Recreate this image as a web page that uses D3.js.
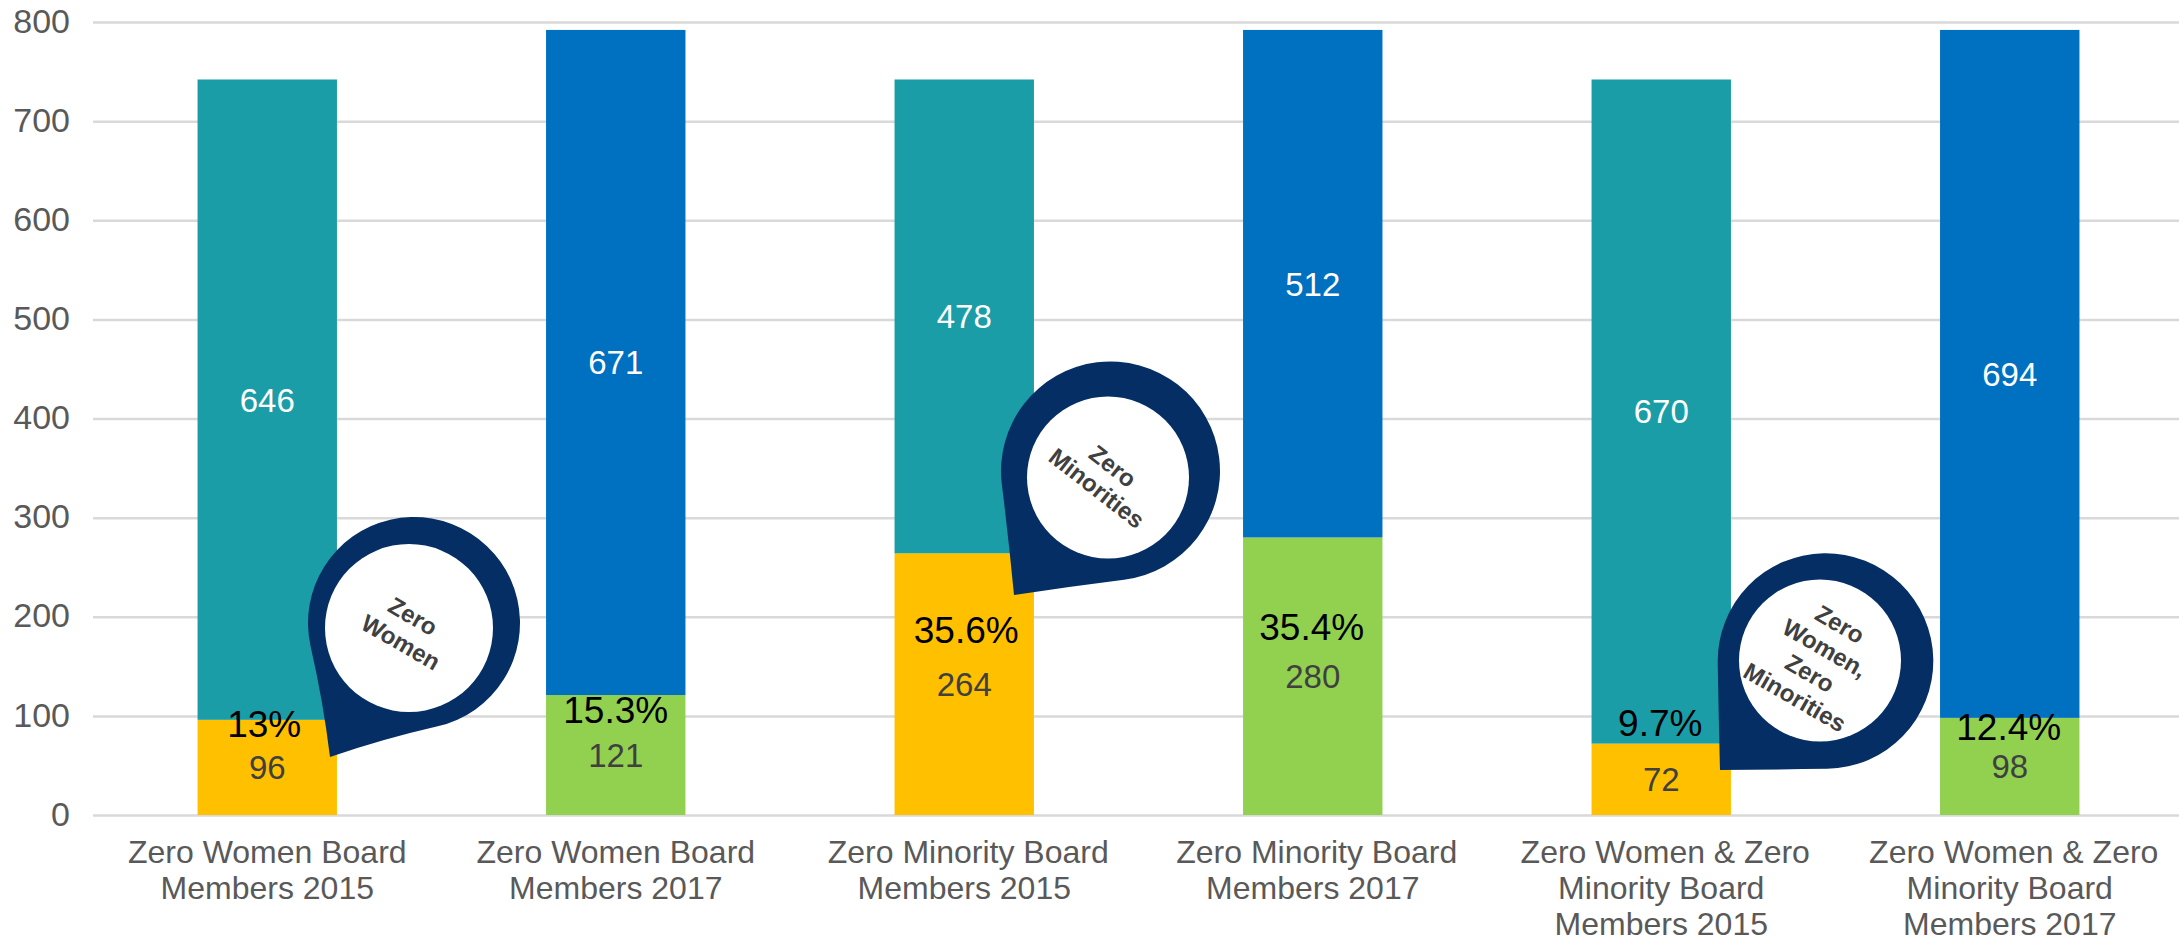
<!DOCTYPE html>
<html>
<head>
<meta charset="utf-8">
<script src="https://cdn.jsdelivr.net/npm/d3@7"></script>
<style>
  html, body { margin: 0; padding: 0; background: #fff; overflow: hidden; }
  text { font-family: "Liberation Sans", Arial, sans-serif; }
  .tick line { stroke: #d9d9d9; stroke-width: 2.5px; }
  .domain { display: none; }
</style>
</head>
<body>
<svg id="chart" width="2179" height="942"></svg>
<script>
const categories = [
  ['Zero Women Board', 'Members 2015'],
  ['Zero Women Board', 'Members 2017'],
  ['Zero Minority Board', 'Members 2015'],
  ['Zero Minority Board', 'Members 2017'],
  ['Zero Women & Zero', 'Minority Board', 'Members 2015'],
  ['Zero Women & Zero', 'Minority Board', 'Members 2017']
];
const zeroCounts = [96, 121, 264, 280, 72, 98];
const otherCounts = [646, 671, 478, 512, 670, 694];
const percentLabels = ['13%', '15.3%', '35.6%', '35.4%', '9.7%', '12.4%'];
const yTicks = [0, 100, 200, 300, 400, 500, 600, 700, 800];

const percentY = [724, 710, 630, 627, 723, 727];
const percentDx = [-3, 0, 2, -1, -1, -1];
const firstLineDx = [0, 0, 4, 4, 4, 4];
const zeroColors = ['#ffc000', '#92d050', '#ffc000', '#92d050', '#ffc000', '#92d050'];
const otherColors = ['#1b9da8', '#0070c0', '#1b9da8', '#0070c0', '#1b9da8', '#0070c0'];

const pins = [
  { cx: 414, cy: 623, R: 106, tx: 330, ty: 757, ix: 409, iy: 628, r: 84, angle: 30,
    lines: [['Zero', 413, 616], ['Women', 401, 642]] },
  { cx: 1110.5, cy: 471, R: 109.5, tx: 1014, ty: 595, ix: 1108, iy: 477.5, r: 81, angle: 38,
    lines: [['Zero', 1113, 466], ['Minorities', 1097, 488]] },
  { cx: 1825.5, cy: 661, R: 107.8, tx: 1720, ty: 770, ix: 1820, iy: 660.5, r: 81, angle: 30,
    lines: [['Zero', 1840, 624], ['Women,', 1825, 648], ['Zero', 1810, 673], ['Minorities', 1795, 697]] }
];

const svg = d3.select('#chart');

const x = d3.scaleBand().domain(d3.range(categories.length))
  .range([93, 2184]).paddingInner(0.6).paddingOuter(0.3);
const y = d3.scaleLinear().domain([0, 800]).range([815, 22]);

// grid + y labels
const yAxis = svg.append('g').attr('transform', 'translate(93,0)')
  .call(d3.axisLeft(y).tickValues(yTicks).tickSize(-2091).tickPadding(23));
yAxis.selectAll('text').attr('fill', '#595959').attr('dy', '0.3em').style('font-size', '34px');

// x labels
const xAxis = svg.append('g').attr('transform', 'translate(0,815)')
  .call(d3.axisBottom(x).tickSize(0).tickFormat(''));
xAxis.selectAll('.tick').select('text').remove();
xAxis.selectAll('.tick').each(function(d) {
  const t = d3.select(this).append('text').attr('text-anchor', 'middle')
    .attr('fill', '#595959').style('font-size', '32px');
  categories[d].forEach((line, i) => {
    t.append('tspan').attr('x', i == 0 ? firstLineDx[d] : 0).attr('y', 48 + i * 36).text(line);
  });
});

// stacked bars
const bars = svg.append('g').selectAll('g').data(categories).enter().append('g');
bars.append('rect')
  .attr('x', (d, i) => x(i)).attr('width', x.bandwidth())
  .attr('y', (d, i) => y(zeroCounts[i]))
  .attr('height', (d, i) => y(0) - y(zeroCounts[i]))
  .attr('fill', (d, i) => zeroColors[i]);
bars.append('rect')
  .attr('x', (d, i) => x(i)).attr('width', x.bandwidth())
  .attr('y', (d, i) => y(zeroCounts[i] + otherCounts[i]))
  .attr('height', (d, i) => y(0) - y(otherCounts[i]))
  .attr('fill', (d, i) => otherColors[i]);

// value labels
bars.append('text').text((d, i) => zeroCounts[i])
  .attr('x', (d, i) => x(i) + x.bandwidth() / 2)
  .attr('y', (d, i) => y(zeroCounts[i] / 2))
  .attr('dy', '0.36em').attr('text-anchor', 'middle')
  .attr('fill', '#404040').style('font-size', '33px');
bars.append('text').text((d, i) => otherCounts[i])
  .attr('x', (d, i) => x(i) + x.bandwidth() / 2)
  .attr('y', (d, i) => y(zeroCounts[i] + otherCounts[i] / 2))
  .attr('dy', '0.36em').attr('text-anchor', 'middle')
  .attr('fill', '#fff').style('font-size', '33px');
bars.append('text').text((d, i) => percentLabels[i])
  .attr('x', (d, i) => x(i) + x.bandwidth() / 2 + percentDx[i])
  .attr('y', (d, i) => percentY[i])
  .attr('dy', '0.36em').attr('text-anchor', 'middle')
  .attr('fill', '#000').style('font-size', '37px');

// teardrop callouts, circle + two curved sides running to the tip
function pinPath(p) {
  const dist = Math.hypot(p.tx - p.cx, p.ty - p.cy);
  const base = Math.atan2(p.ty - p.cy, p.tx - p.cx);
  const a = dist / Math.SQRT2;
  const angU = base - Math.PI / 4, angV = base + Math.PI / 4;
  const u = [Math.cos(angU), Math.sin(angU)], v = [Math.cos(angV), Math.sin(angV)];
  const path = d3.path();
  path.moveTo(p.tx, p.ty);
  path.quadraticCurveTo(p.cx + p.R * u[0] + a / 2 * v[0], p.cy + p.R * u[1] + a / 2 * v[1],
    p.cx + p.R * u[0], p.cy + p.R * u[1]);
  path.arc(p.cx, p.cy, p.R, angU, angV, true);
  path.quadraticCurveTo(p.cx + a / 2 * u[0] + p.R * v[0], p.cy + a / 2 * u[1] + p.R * v[1],
    p.tx, p.ty);
  path.closePath();
  return path.toString();
}

const pinG = svg.append('g').selectAll('g').data(pins).enter().append('g');
pinG.append('path').attr('d', pinPath).attr('fill', '#052f64');
pinG.append('circle').attr('cx', d => d.ix).attr('cy', d => d.iy).attr('r', d => d.r).attr('fill', '#fff');
pinG.each(function(p) {
  d3.select(this).selectAll('text').data(p.lines).enter().append('text')
    .text(d => d[0])
    .attr('text-anchor', 'middle').attr('dy', '0.36em')
    .attr('transform', d => 'translate(' + d[1] + ',' + d[2] + ') rotate(' + p.angle + ')')
    .attr('fill', '#404040').style('font-size', '24px').style('font-weight', 'bold');
});
</script>
</body>
</html>
